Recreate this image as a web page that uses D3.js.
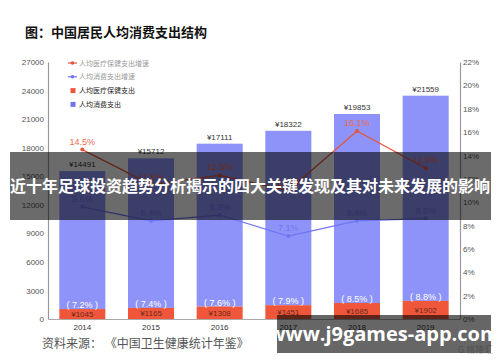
<!DOCTYPE html>
<html>
<head>
<meta charset="utf-8">
<script src="https://cdn.jsdelivr.net/npm/d3@7/dist/d3.min.js"></script>
<style>
  body { margin: 0; background: #fff; }
  svg { display: block; }
  text { font-family: "Liberation Sans", Arial, sans-serif; }
  .cjk { font-family: "Noto Sans CJK SC", sans-serif; }
</style>
</head>
<body>
<script>
var width = 500,
    height = 362;

// data
var years = ["2014", "2015", "2016", "2017", "2018", "2019"];
var consumption = [14491, 15712, 17111, 18322, 19853, 21559];
var health = [1045, 1165, 1308, 1451, 1685, 1902];
var shareLabels = ["7.2%", "7.4%", "7.6%", "7.9%", "8.5%", "8.8%"];
var healthGrowth = [14.5, 11.5, 12.3, 11.0, 16.1, 12.9];
var consGrowth = [9.6, 8.4, 8.9, 7.1, 8.4, 8.6];
var leftTicks = [0, 3000, 6000, 9000, 12000, 15000, 18000, 21000, 24000, 27000];
var rightTicks = [0, 2, 4, 6, 8, 10, 12, 14, 16, 18, 20, 22];

var red = "#f0573a",
    blue = "#8d93f8",
    redLine = "#e5553c",
    blueLine = "#6f75f3";

var svg = d3.select("body").append("svg")
    .attr("width", width)
    .attr("height", height);

var x = d3.scaleBand()
    .domain(years)
    .range([48, 460])
    .paddingInner(0.33)
    .paddingOuter(0.165);

var y = d3.scaleLinear()
    .domain([0, 27000])
    .range([319, 62]);

var y2 = d3.scaleLinear()
    .domain([0, 22])
    .range([319, 62]);

//title
svg.append("text")
    .attr("class", "cjk")
    .attr("x", 25)
    .attr("y", 37)
    .attr("font-size", 13)
    .attr("font-weight", "bold")
    .attr("fill", "#111")
    .text("图：中国居民人均消费支出结构");

//axes
var axisLeft = svg.append("g")
    .attr("transform", "translate(48,0)")
    .call(d3.axisLeft(y).tickValues(leftTicks).tickSize(0).tickPadding(4)
        .tickFormat(d3.format("d")));
var axisRight = svg.append("g")
    .attr("transform", "translate(460,0)")
    .call(d3.axisRight(y2).tickValues(rightTicks).tickSize(0).tickPadding(3)
        .tickFormat(function(d) { return d + "%"; }));
[axisLeft, axisRight].forEach(function(g) {
    g.select(".domain").attr("stroke", "#999").attr("stroke-width", 1.2);
    g.selectAll("text")
        .attr("font-size", 8)
        .attr("fill", "#555")
        .style("font-family", "Liberation Sans, Arial, sans-serif");
});

var axisBottom = svg.append("g")
    .attr("transform", "translate(0,319)")
    .call(d3.axisBottom(x).tickSize(0).tickPadding(5));
axisBottom.select(".domain").attr("stroke", "#aaa");
axisBottom.selectAll("text")
    .attr("font-size", 8)
    .attr("fill", "#333")
    .style("font-family", "Liberation Sans, Arial, sans-serif");

//bars
var rows = years.map(function(d, i) {
    return { year: d, cons: consumption[i], health: health[i], share: shareLabels[i] };
});

var bars = svg.append("g").selectAll("g")
    .data(rows)
    .enter()
    .append("g");

bars.append("rect")
    .attr("x", function(d) { return x(d.year); })
    .attr("width", x.bandwidth())
    .attr("y", function(d) { return y(d.health + d.cons); })
    .attr("height", function(d) { return y(d.health) - y(d.health + d.cons); })
    .attr("fill", blue);

bars.append("rect")
    .attr("x", function(d) { return x(d.year); })
    .attr("width", x.bandwidth())
    .attr("y", function(d) { return y(d.health); })
    .attr("height", function(d) { return y(0) - y(d.health); })
    .attr("fill", red);

bars.append("text")
    .attr("x", function(d) { return x(d.year) + x.bandwidth() / 2; })
    .attr("y", function(d) { return y(d.health + d.cons) - 4; })
    .attr("text-anchor", "middle")
    .attr("font-size", 8)
    .attr("fill", "#333")
    .text(function(d) { return "¥" + d.cons; });

bars.append("text")
    .attr("x", function(d) { return x(d.year) + x.bandwidth() / 2; })
    .attr("y", function(d) { return y(d.health) - 1; })
    .attr("text-anchor", "middle")
    .attr("font-size", 9)
    .attr("fill", "#fff")
    .text(function(d) { return "( " + d.share + " )"; });

bars.append("text")
    .attr("x", function(d) { return x(d.year) + x.bandwidth() / 2; })
    .attr("y", function(d) { return y(d.health / 2) + 3; })
    .attr("text-anchor", "middle")
    .attr("font-size", 8)
    .attr("fill", "#6a2a1e")
    .text(function(d) { return "¥" + d.health; });

//lines
function drawLine(values, color, labelColor) {
    var pts = years.map(function(d, i) { return [x(d) + x.bandwidth() / 2, y2(values[i]), values[i]]; });
    svg.append("path")
        .datum(pts)
        .attr("fill", "none")
        .attr("stroke", color)
        .attr("stroke-width", 1.2)
        .attr("d", d3.line());
    svg.append("g").selectAll("circle")
        .data(pts)
        .enter()
        .append("circle")
        .attr("cx", function(d) { return d[0]; })
        .attr("cy", function(d) { return d[1]; })
        .attr("r", 2)
        .attr("fill", color);
    svg.append("g").selectAll("text")
        .data(pts)
        .enter()
        .append("text")
        .attr("x", function(d) { return d[0]; })
        .attr("y", function(d) { return d[1] - 5; })
        .attr("text-anchor", "middle")
        .attr("font-size", 9)
        .attr("fill", labelColor)
        .text(function(d) { return d[2].toFixed(1) + "%"; });
}
drawLine(healthGrowth, redLine, "#f06a50");
drawLine(consGrowth, blueLine, "#6f75f3");

//legend
var legendItems = [
    { label: "人均医疗保健支出增速", color: redLine, type: "line", textColor: "#999" },
    { label: "人均消费支出增速", color: blueLine, type: "line", textColor: "#999" },
    { label: "人均医疗保健支出", color: red, type: "rect", textColor: "#222" },
    { label: "人均消费支出", color: "#6f75f3", type: "rect", textColor: "#222" }
];
var legend = svg.append("g").selectAll("g")
    .data(legendItems)
    .enter()
    .append("g")
    .attr("transform", function(d, i) { return "translate(68," + (63 + i * 13.8) + ")"; });
legend.filter(function(d) { return d.type == "line"; })
    .append("line")
    .attr("x1", 0).attr("x2", 9)
    .attr("stroke", function(d) { return d.color; })
    .attr("stroke-width", 1.2);
legend.filter(function(d) { return d.type == "line"; })
    .append("circle")
    .attr("cx", 4.5).attr("r", 1.8)
    .attr("fill", function(d) { return d.color; });
legend.filter(function(d) { return d.type == "rect"; })
    .append("rect")
    .attr("x", 2.5).attr("y", -2.5)
    .attr("width", 5).attr("height", 5)
    .attr("fill", function(d) { return d.color; });
legend.append("text")
    .attr("class", "cjk")
    .attr("x", 11)
    .attr("y", 2.5)
    .attr("font-size", 7)
    .attr("fill", function(d) { return d.textColor; })
    .text(function(d) { return d.label; });

//source
svg.append("text")
    .attr("class", "cjk")
    .attr("x", 42)
    .attr("y", 348)
    .attr("font-size", 12)
    .attr("fill", "#555")
    .text("资料来源：  《中国卫生健康统计年鉴》");

//watermark
svg.append("text")
    .attr("class", "cjk")
    .attr("x", 458)
    .attr("y", 353)
    .attr("font-size", 9)
    .attr("fill", "#ccc")
    .text("G 格隆汇");

//overlay banners
svg.append("rect")
    .attr("x", 10).attr("y", 152)
    .attr("width", 481).attr("height", 68)
    .attr("fill", "rgba(0,0,0,0.58)");
svg.append("text")
    .attr("class", "cjk")
    .attr("x", 250)
    .attr("y", 192)
    .attr("text-anchor", "middle")
    .attr("font-size", 16)
    .attr("font-weight", "bold")
    .attr("fill", "#fff")
    .text("近十年足球投资趋势分析揭示的四大关键发现及其对未来发展的影响");

svg.append("rect")
    .attr("x", 277).attr("y", 315)
    .attr("width", 214).attr("height", 38)
    .attr("fill", "rgba(0,0,0,0.6)");
svg.append("text")
    .attr("x", 384)
    .attr("y", 341)
    .attr("text-anchor", "middle")
    .attr("font-size", 20)
    .attr("font-weight", "bold")
    .attr("fill", "#fff")
    .style("font-family", "Open Sans, sans-serif")
    .text("www.j9games-app.com");
</script>
</body>
</html>
